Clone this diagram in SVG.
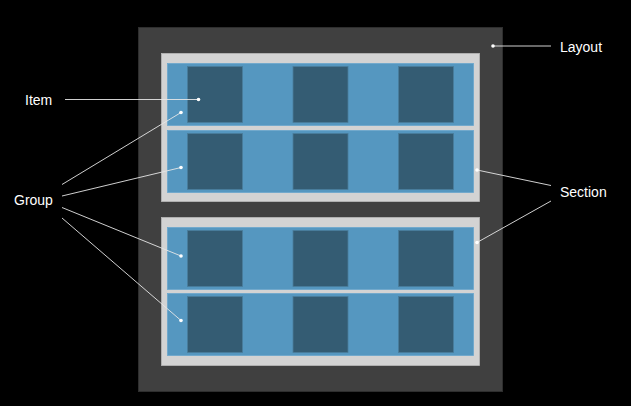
<svg xmlns="http://www.w3.org/2000/svg" width="631" height="406" viewBox="0 0 631 406">
<style>
.bg{fill:#000}
.layout{fill:#404040;stroke:#2e2e2e;stroke-width:1}
.section{fill:#d3d3d3;stroke:#b8b8b8;stroke-width:0.8}
.group{fill:#5597c0;stroke:#6aa6cc;stroke-width:0.8}
.item{fill:#345c73;stroke:#4a7d9c;stroke-width:0.8}
.lbl{font-family:"Liberation Sans",Arial,sans-serif;font-size:14px;fill:#fff}
.conn line{stroke:#e6e6e6;stroke-width:0.9}
.conn circle{fill:#fff}
</style>
<rect class="bg" x="0" y="0" width="631" height="406"/>
<g id="layout">
<rect class="layout" x="138.5" y="27.5" width="364" height="364"/>
</g>
<g id="section1">
<rect class="section" x="161.5" y="53.5" width="318" height="148"/>
</g>
<g id="group1">
<rect class="group" x="167.5" y="63.5" width="306" height="62"/>
<rect class="item" x="187.5" y="66.5" width="55" height="56"/>
<rect class="item" x="293" y="66.5" width="55" height="56"/>
<rect class="item" x="398.5" y="66.5" width="55" height="56"/>
</g>
<g id="group2">
<rect class="group" x="167.5" y="130.5" width="306" height="62"/>
<rect class="item" x="187.5" y="133.5" width="55" height="56"/>
<rect class="item" x="293" y="133.5" width="55" height="56"/>
<rect class="item" x="398.5" y="133.5" width="55" height="56"/>
</g>
<g id="section2">
<rect class="section" x="161.5" y="217.5" width="318" height="148"/>
</g>
<g id="group3">
<rect class="group" x="167.5" y="227.5" width="306" height="62"/>
<rect class="item" x="187.5" y="230.5" width="55" height="56"/>
<rect class="item" x="293" y="230.5" width="55" height="56"/>
<rect class="item" x="398.5" y="230.5" width="55" height="56"/>
</g>
<g id="group4">
<rect class="group" x="167.5" y="293.5" width="306" height="62"/>
<rect class="item" x="187.5" y="296.5" width="55" height="56"/>
<rect class="item" x="293" y="296.5" width="55" height="56"/>
<rect class="item" x="398.5" y="296.5" width="55" height="56"/>
</g>
<g id="labels">
<text class="lbl" x="25" y="105">Item</text>
<text class="lbl" x="14" y="204.5">Group</text>
<text class="lbl" x="560" y="51.5">Layout</text>
<text class="lbl" x="560" y="196.5">Section</text>
</g>
<g id="connectors" class="conn">
<line x1="65" y1="99.5" x2="198.5" y2="99.5"/>
<circle cx="198.5" cy="99.5" r="1.8"/>
<line x1="62" y1="184.5" x2="181" y2="112.5"/>
<circle cx="181" cy="112.5" r="1.8"/>
<line x1="62" y1="196" x2="181" y2="167.5"/>
<circle cx="181" cy="167.5" r="1.8"/>
<line x1="62" y1="207.5" x2="181" y2="256"/>
<circle cx="181" cy="256" r="1.8"/>
<line x1="62" y1="218" x2="181" y2="320.5"/>
<circle cx="181" cy="320.5" r="1.8"/>
<line x1="551" y1="46" x2="493" y2="46"/>
<circle cx="493" cy="46" r="1.8"/>
<line x1="551" y1="185.5" x2="477" y2="170"/>
<circle cx="477" cy="170" r="1.8"/>
<line x1="551" y1="201" x2="477" y2="242.5"/>
<circle cx="477" cy="242.5" r="1.8"/>
</g>
</svg>
